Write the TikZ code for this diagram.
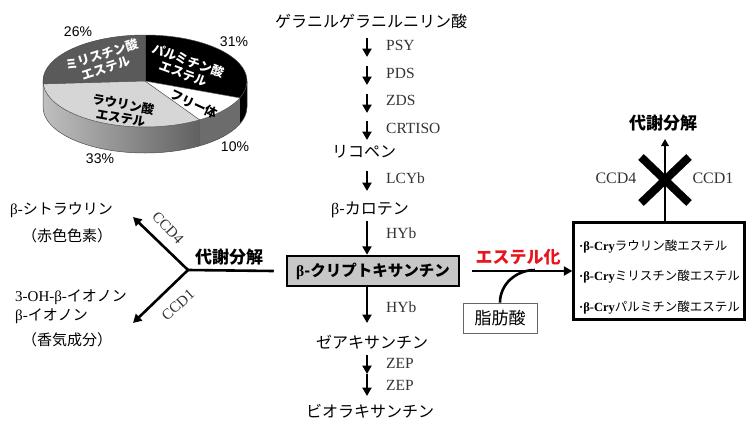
\documentclass[tikz,border=0pt]{standalone}
\usepackage{fontspec}
\setmainfont{Liberation Serif}
\newfontfamily\jp{Noto Sans CJK JP}
\newfontfamily\pct{Liberation Sans}
\usetikzlibrary{arrows.meta}
\definecolor{myr}{HTML}{5A5A5A}
\definecolor{lau}{HTML}{D6D6D6}
\definecolor{enzc}{HTML}{333333}
\definecolor{estred}{HTML}{E8141E}
\begin{document}
\begin{tikzpicture}[x=1pt,y=1pt,
  jtxt/.style={font=\jp\fontsize{16}{18}\selectfont, inner sep=0pt},
  ltxt/.style={font=\fontsize{15}{17}\selectfont, inner sep=0pt, anchor=west},
  enz/.style={font=\fontsize{15.5}{17}\selectfont, text=enzc, anchor=west, inner sep=0pt},
  mainar/.style={line width=2.6pt, -{Triangle[length=8.5pt,width=9pt]}},
  plainln/.style={line width=2.6pt},
  pielab/.style={font=\jp\bfseries\fontsize{12.5}{14}\selectfont, align=center, inner sep=0pt},
  pctl/.style={font=\pct\fontsize{14}{16}\selectfont, inner sep=0pt},
  esteritem/.style={font=\fontsize{12.5}{14}\selectfont, anchor=west, inner sep=0pt}]
\useasboundingbox (0,0) rectangle (747,-421);

% ---------------- pie chart ----------------
\coordinate (C) at (145,-81);
% sides
\fill[black] (C) ++(0:102 and 46) arc[start angle=0,end angle=-21.6,x radius=102pt,y radius=46pt] -- ++(0,-26) arc[start angle=-21.6,end angle=0,x radius=102pt,y radius=46pt] -- cycle;
\fill[gray!85!black] (C) ++(-21.6:102 and 46) arc[start angle=-21.6,end angle=-57.6,x radius=102pt,y radius=46pt] -- ++(0,-26) arc[start angle=-57.6,end angle=-21.6,x radius=102pt,y radius=46pt] -- cycle;
\shade[left color=black!25, right color=black!62] (C) ++(-57.6:102 and 46) arc[start angle=-57.6,end angle=-180,x radius=102pt,y radius=46pt] -- ++(0,-26) arc[start angle=-180,end angle=-57.6,x radius=102pt,y radius=46pt] -- cycle;
% tops
\fill[black] (C) -- ++(90:102 and 46) arc[start angle=90,end angle=-21.6,x radius=102pt,y radius=46pt] -- cycle;
\fill[white] (C) -- ++(-21.6:102 and 46) arc[start angle=-21.6,end angle=-57.6,x radius=102pt,y radius=46pt] -- cycle;
\fill[lau] (C) -- ++(-57.6:102 and 46) arc[start angle=-57.6,end angle=-176.4,x radius=102pt,y radius=46pt] -- cycle;
\fill[myr] (C) -- ++(-176.4:102 and 46) arc[start angle=-176.4,end angle=-270,x radius=102pt,y radius=46pt] -- cycle;
% outlines
\draw[black!70, line width=0.5pt] (C) ellipse[x radius=102pt, y radius=46pt];
\draw[black!70, line width=0.5pt] (C) ++(-180:102 and 46) -- ++(0,-26) arc[start angle=-180,end angle=0,x radius=102pt,y radius=46pt] -- ++(0,26);
\draw[black!70, line width=0.5pt] (C) -- ++(-57.6:102 and 46) -- ++(0,-26);
\draw[black!70, line width=0.5pt] (C) -- ++(-21.6:102 and 46);
\draw[black!70, line width=0.5pt] (C) -- ++(-176.4:102 and 46);
\draw[black!70, line width=0.5pt] (C) -- ++(90:102 and 46);
% labels
\node[pielab, text=white, rotate=18] (lmyr) at (104,-61) {ミリスチン酸\\エステル};
\node[pielab, text=white, rotate=-20] (lpal) at (186,-67) {パルミチン酸\\エステル};
\node[pielab, rotate=-10] (llau) at (122,-111) {ラウリン酸\\エステル};
\node[pielab, rotate=-25] (lfree) at (194,-104) {フリー体};
\node[pctl] (p26) at (78,-32) {26\%};
\node[pctl] (p31) at (234,-42) {31\%};
\node[pctl] (p10) at (235,-147) {10\%};
\node[pctl] (p33) at (100,-159) {33\%};

% ---------------- main pathway ----------------
\node[jtxt] (ggpp) at (371,-21) {ゲラニルゲラニルニリン酸};
\coordinate (a1) at (367,-38); \coordinate (b1) at (367,-57);
\coordinate (a2) at (367,-66); \coordinate (b2) at (367,-85);
\coordinate (a3) at (367,-94); \coordinate (b3) at (367,-113);
\coordinate (a4) at (367,-121); \coordinate (b4) at (367,-140);
\draw[mainar] (a1) -- (b1);
\draw[mainar] (a2) -- (b2);
\draw[mainar] (a3) -- (b3);
\draw[mainar] (a4) -- (b4);
\node[enz] (psy) at (386,-45) {PSY};
\node[enz] (pds) at (386,-73) {PDS};
\node[enz] (zds) at (386,-100) {ZDS};
\node[enz] (crt) at (386,-128) {CRTISO};
\node[jtxt] (lyc) at (364,-152) {リコペン};
\coordinate (a5) at (367,-171); \coordinate (b5) at (367,-191);
\draw[mainar] (a5) -- (b5);
\node[enz] (lcy) at (386,-178) {LCYb};
\node[jtxt] (bcar) at (370,-210) {{\rmfamily β}-カロテン};
\node[draw, line width=2.5pt, fill=black!22, minimum width=172pt, minimum height=30pt, inner sep=0pt,
      font=\jp\bfseries\fontsize{15.5}{17}\selectfont] (crypt) at (373,-271) {{\rmfamily\bfseries β}-クリプトキサンチン};
\coordinate (a6) at (367,-221);
\draw[mainar] (a6) -- (a6 |- crypt.north);
\node[enz] (hyb1) at (386,-233) {HYb};
\coordinate (b7) at (367,-323);
\draw[mainar] (b7 |- crypt.south) -- (b7);
\node[enz] (hyb2) at (386,-307) {HYb};
\node[jtxt] (zea) at (372,-342) {ゼアキサンチン};
\coordinate (a8) at (367,-355); \coordinate (b8) at (367,-374); \coordinate (b9) at (367,-396);
\draw[mainar] (a8) -- (b8);
\draw[mainar] (b8) -- (b9);
\node[enz] (zep1) at (386,-363) {ZEP};
\node[enz] (zep2) at (386,-385) {ZEP};
\node[jtxt] (vio) at (370,-411) {ビオラキサンチン};

% ---------------- left branch ----------------
\coordinate (J) at (188,-270);
\coordinate (c4) at (133,-217);
\coordinate (c1) at (133,-323);
\draw[plainln] (J) -- ([xshift=-12pt]crypt.west);
\draw[mainar] (J) -- (c4);
\draw[mainar] (J) -- (c1);
\node[font=\fontsize{15}{17}\selectfont, text=enzc, rotate=-47, inner sep=0pt] (ccd4l) at (168,-228) {CCD4};
\node[font=\fontsize{15}{17}\selectfont, text=enzc, rotate=42, inner sep=0pt] (ccd1l) at (178,-305) {CCD1};
\node[font=\jp\bfseries\fontsize{17}{19}\selectfont, inner sep=0pt] (met1) at (229,-257) {代謝分解};
\node[ltxt] (citr) at (10,-210) {β-{\jp シトラウリン}};
\node[font=\jp\fontsize{15}{17}\selectfont, inner sep=0pt] (red) at (67,-236) {（赤色色素）};
\node[ltxt] (ohion) at (15,-297) {3-OH-β-{\jp イオノン}};
\node[ltxt] (ion) at (15,-316) {β-{\jp イオノン}};
\node[font=\jp\fontsize{15}{17}\selectfont, inner sep=0pt] (arom) at (67,-340) {（香気成分）};

% ---------------- right branch ----------------
\node[draw, line width=2.3pt, minimum width=171pt, minimum height=97pt, inner sep=0pt] (esters) at (659,-271) {};
\node[esteritem] (e1) at (579,-247) {{\bfseries ·β-Cry}{\jp ラウリン酸エステル}};
\node[esteritem] (e2) at (579,-277) {{\bfseries ·β-Cry}{\jp ミリスチン酸エステル}};
\node[esteritem] (e3) at (579,-308) {{\bfseries ·β-Cry}{\jp パルミチン酸エステル}};
\draw[mainar] ([xshift=12pt]crypt.east) -- (esters.west);
\node[font=\jp\bfseries\fontsize{17}{19}\selectfont, text=estred, inner sep=0pt] (esterif) at (518,-257) {エステル化};
\node[draw=black!60, line width=0.8pt, minimum width=74pt, minimum height=30pt, inner sep=0pt,
      font=\jp\fontsize{17}{19}\selectfont] (fat) at (500,-318) {脂肪酸};
\coordinate (mg) at (535,-270);
\draw[plainln] (fat.north) to[out=90,in=180] (mg);
\node[font=\jp\bfseries\fontsize{17}{19}\selectfont, inner sep=0pt] (met2) at (663,-123) {代謝分解};
\coordinate (vx) at (665,-139);
\draw[line width=2.3pt, -{Triangle[length=7pt,width=7.5pt]}] (vx |- esters.north) -- (vx);
\draw[line width=8pt] (641,-157) -- (689,-203);
\draw[line width=8pt] (689,-157) -- (641,-203);
\node[font=\fontsize{16}{18}\selectfont, text=enzc, inner sep=0pt] (ccd4r) at (616,-178) {CCD4};
\node[font=\fontsize{16}{18}\selectfont, text=enzc, inner sep=0pt] (ccd1r) at (713,-178) {CCD1};
\end{tikzpicture}
\end{document}
